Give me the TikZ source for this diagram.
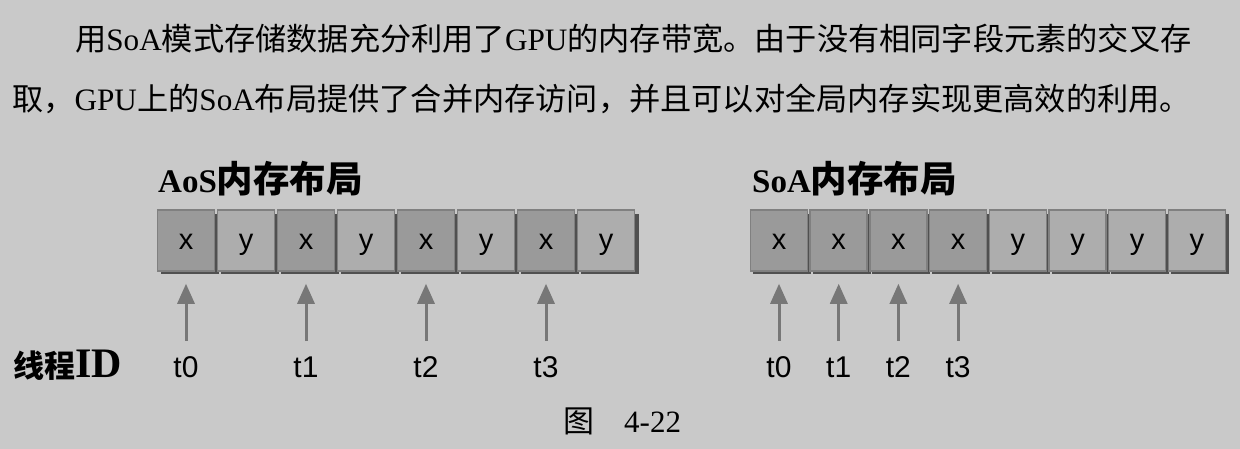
\documentclass[tikz,border=0pt]{standalone}
\usepackage{fontspec}
\setmainfont{Liberation Serif}
\setsansfont{Liberation Sans}
\newfontfamily\cjk{Noto Sans CJK SC}
\usetikzlibrary{arrows.meta}

\definecolor{hintergrund}{HTML}{C9C9C9}
\definecolor{feldx}{HTML}{9A9A9A}
\definecolor{feldy}{HTML}{ADADAD}
\definecolor{rand}{HTML}{808080}
\definecolor{schatten}{HTML}{505050}
\definecolor{pfeil}{HTML}{777777}

\tikzset{
    zelle/.style={draw=rand, line width=1.5pt, minimum width=57pt, minimum height=61pt,
        inner sep=0pt, text height=19pt, text depth=0pt, font=\sffamily\fontsize{29}{32}\selectfont},
    zellex/.style={zelle, fill=feldx},
    zelley/.style={zelle, fill=feldy},
    faden/.style={inner sep=0pt, anchor=base, font=\sffamily\fontsize{30}{32}\selectfont},
    zugriff/.style={draw=pfeil, line width=3pt, -{Triangle[width=17pt,length=20pt]},
        shorten <=15pt, shorten >=12pt},
    fliess/.style={inner sep=0pt, anchor=base west, font=\fontsize{31.2}{36}\selectfont},
    titel/.style={inner sep=0pt, anchor=base west, font=\bfseries\fontsize{33}{36}\selectfont},
}

\begin{document}
\begin{tikzpicture}[x=1pt, y=-1pt]
    % --- Hintergrund ---
    \fill[hintergrund] (0,0) rectangle (1240,449);
    \useasboundingbox (0,0) rectangle (1240,449);

    % --- Fliesstext ---
    \node[fliess] (zeile1) at (75,51)
        {{\cjk 用}SoA{\cjk 模式存储数据充分利用了}GPU{\cjk 的内存带宽。由于没有相同字段元素的交叉存}};
    \node[fliess] (zeile2) at (12,111)
        {{\cjk 取，}GPU{\cjk 上的}SoA{\cjk 布局提供了合并内存访问，并且可以对全局内存实现更高效的利用。}};

    % --- Ueberschriften ---
    \node[titel] (titelaos) at (158,193) {AoS{\cjk\fontsize{36.5}{36}\selectfont 内存布局}};
    \node[titel] (titelsoa) at (752,193) {SoA{\cjk\fontsize{36.5}{36}\selectfont 内存布局}};

    % --- AoS-Zeile ---
    % Schatten
    \foreach \i in {0,...,7}
        \fill[schatten] (161+60*\i,214) rectangle (219+60*\i,274);
    \node[zellex] (a1) at (186,240.5) {x};
    \node[zelley] (a2) at (246,240.5) {y};
    \node[zellex] (a3) at (306,240.5) {x};
    \node[zelley] (a4) at (366,240.5) {y};
    \node[zellex] (a5) at (426,240.5) {x};
    \node[zelley] (a6) at (486,240.5) {y};
    \node[zellex] (a7) at (546,240.5) {x};
    \node[zelley] (a8) at (606,240.5) {y};

    % --- SoA-Zeile ---
    % Schatten
    \foreach \i in {0,...,7}
        \fill[schatten] (753+59.7*\i,214) rectangle (811+59.7*\i,274);
    \node[zellex] (s1) at (779,240.5) {x};
    \node[zellex] (s2) at (838.7,240.5) {x};
    \node[zellex] (s3) at (898.4,240.5) {x};
    \node[zellex] (s4) at (958.1,240.5) {x};
    \node[zelley] (s5) at (1017.8,240.5) {y};
    \node[zelley] (s6) at (1077.5,240.5) {y};
    \node[zelley] (s7) at (1137.2,240.5) {y};
    \node[zelley] (s8) at (1196.9,240.5) {y};

    % --- Threads ---
    \node[titel, font=\bfseries\fontsize{31}{36}\selectfont] (faeden) at (13,377)
        {{\cjk 线程}{\fontsize{42}{42}\selectfont ID}};
    \node[faden] (ta0) at (186,377) {t0};
    \node[faden] (ta1) at (306,377) {t1};
    \node[faden] (ta2) at (426,377) {t2};
    \node[faden] (ta3) at (546,377) {t3};
    \node[faden] (ts0) at (779,377) {t0};
    \node[faden] (ts1) at (838.7,377) {t1};
    \node[faden] (ts2) at (898.4,377) {t2};
    \node[faden] (ts3) at (958.1,377) {t3};

    % --- Zugriffe ---
    \draw[zugriff] (ta0.north) -- (a1.south);
    \draw[zugriff] (ta1.north) -- (a3.south);
    \draw[zugriff] (ta2.north) -- (a5.south);
    \draw[zugriff] (ta3.north) -- (a7.south);
    \draw[zugriff] (ts0.north) -- (s1.south);
    \draw[zugriff] (ts1.north) -- (s2.south);
    \draw[zugriff] (ts2.north) -- (s3.south);
    \draw[zugriff] (ts3.north) -- (s4.south);

    % --- Bildunterschrift ---
    \node[fliess, font=\fontsize{31}{36}\selectfont] (unterschrift) at (563,432) {{\cjk 图}\hspace{30pt}4-22};
\end{tikzpicture}
\end{document}
